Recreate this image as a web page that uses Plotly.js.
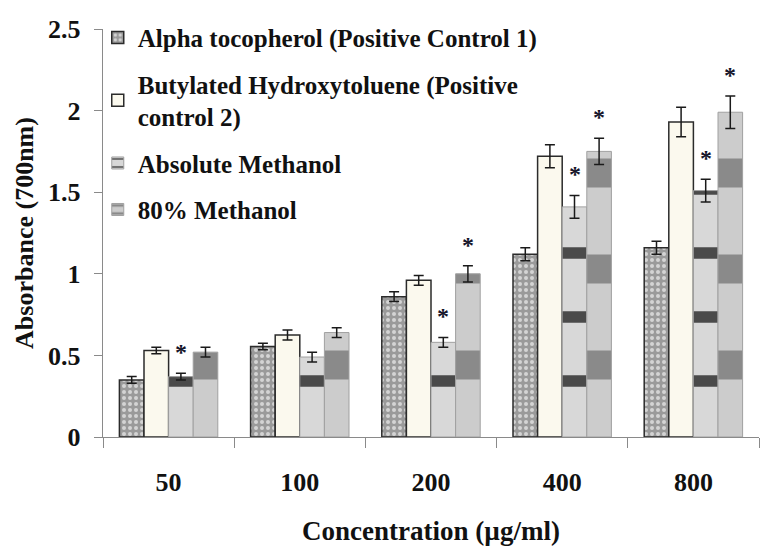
<!DOCTYPE html>
<html>
<head>
<meta charset="utf-8">
<script src="https://cdn.plot.ly/plotly-3.0.1.min.js"></script>
<style>html,body{margin:0;padding:0;background:#fff;}#chart{width:766px;height:553px;}</style>
</head>
<body>
<div id="chart"></div>
<script>
var categories = ["50", "100", "200", "400", "800"];
var seriesNames = ["Alpha tocopherol (Positive Control 1)", "Butylated Hydroxytoluene (Positive<br>control 2)", "Absolute Methanol", "80% Methanol"];
var alphaToco = [0.35, 0.555, 0.86, 1.12, 1.16];
var alphaErr = [0.02, 0.02, 0.03, 0.04, 0.04];
var bht = [0.53, 0.625, 0.96, 1.72, 1.93];
var bhtErr = [0.02, 0.03, 0.03, 0.07, 0.09];
var absMeth = [0.37, 0.49, 0.58, 1.41, 1.51];
var absMethErr = [0.02, 0.03, 0.03, 0.07, 0.07];
var meth80 = [0.52, 0.64, 1.0, 1.75, 1.99];
var meth80Err = [0.03, 0.03, 0.05, 0.08, 0.1];
var significant = [[false,false,false,false,false],[false,false,false,false,false],[true,false,true,true,true],[false,false,true,true,true]];
var yTicks = [0, 0.5, 1, 1.5, 2, 2.5];
var yTickText = ["0", "0.5", "1", "1.5", "2", "2.5"];

var values = [alphaToco, bht, absMeth, meth80];
var errs = [alphaErr, bhtErr, absMethErr, meth80Err];
var markers = [
  {color: "#a3a3a3", line: {color: "#2b2b2b", width: 1.5}, pattern: {shape: ".", fgcolor: "#d4d4d4", bgcolor: "#9a9a9a", size: 6, solidity: 0.35}},
  {color: "#fbf9ee", line: {color: "#2b2b2b", width: 1.5}},
  {color: "#cfcfcf", line: {color: "#a0a0a0", width: 1}, pattern: {shape: "-", fgcolor: "#4a4a4a", bgcolor: "#d8d8d8", size: 64, solidity: 0.18}},
  {color: "#bdbdbd", line: {color: "#a0a0a0", width: 1}, pattern: {shape: "-", fgcolor: "#8a8a8a", bgcolor: "#cccccc", size: 96, solidity: 0.3}}
];

var traces = values.map(function(v, j) {
  return {
    type: "bar", x: categories, y: v, name: seriesNames[j], legendgroup: "g" + j,
    marker: markers[j],
    error_y: {type: "data", array: errs[j], visible: true, color: "#1a1a1a", thickness: 1.5, width: 5}
  };
});

var annotations = [];
var nb = values.length, groupW = 0.75, barW = groupW / nb;
values.forEach(function(v, j) {
  v.forEach(function(val, i) {
    if (significant[j][i]) {
      annotations.push({
        x: i + (j - (nb - 1) / 2) * barW, y: val + errs[j][i], xref: "x", yref: "y",
        text: "<b>*</b>", showarrow: false, yanchor: "bottom", yshift: 6,
        font: {family: "Liberation Serif", size: 24, color: "#15152a"}
      });
    }
  });
});

var layout = {
  width: 766, height: 553,
  margin: {l: 103, r: 7, t: 29, b: 116},
  paper_bgcolor: "#ffffff", plot_bgcolor: "#ffffff",
  barmode: "group", bargap: 0.25, bargroupgap: 0,
  font: {family: "Liberation Serif", color: "#111"},
  showlegend: true,
  legend: {x: -0.008, y: 1.035, xanchor: "left", yanchor: "top", bgcolor: "rgba(0,0,0,0)",
    font: {family: "Liberation Serif", size: 25, color: "#111", weight: "bold"},
    tracegroupgap: 11, itemwidth: 30},
  xaxis: {
    type: "category", showline: true, linecolor: "#8a8a8a", linewidth: 1.2,
    ticks: "outside", tickson: "boundaries", ticklen: 10, tickcolor: "#8a8a8a",
    ticklabelstandoff: 22,
    tickfont: {family: "Liberation Serif", size: 26, color: "#111", weight: "bold"},
    title: {text: "Concentration (µg/ml)", font: {family: "Liberation Serif", size: 27, color: "#111", weight: "bold"}, standoff: 24},
    showgrid: false, zeroline: false
  },
  yaxis: {
    range: [0, 2.5], tickvals: yTicks, ticktext: yTickText,
    showline: true, linecolor: "#8a8a8a", linewidth: 1.2,
    ticks: "outside", ticklen: 8, tickcolor: "#8a8a8a",
    ticklabelstandoff: 8,
    tickfont: {family: "Liberation Serif", size: 26, color: "#111", weight: "bold"},
    title: {text: "Absorbance (700nm)", font: {family: "Liberation Serif", size: 26, color: "#111", weight: "bold"}, standoff: 7},
    showgrid: false, zeroline: false
  },
  annotations: annotations
};

Plotly.newPlot("chart", traces, layout, {displayModeBar: false, staticPlot: true});
</script>
</body>
</html>
